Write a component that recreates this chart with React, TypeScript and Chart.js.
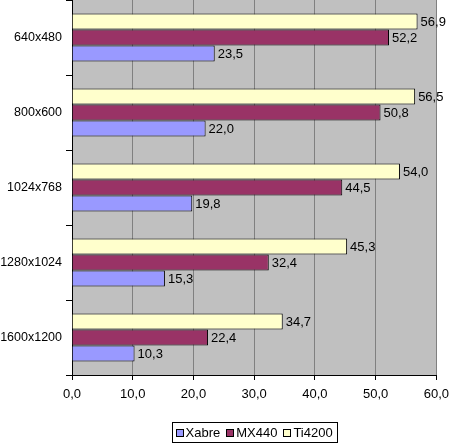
import React, { useEffect, useRef } from "react";
import { Chart, registerables } from "chart.js";

Chart.register(...registerables);

const categories = ["640x480", "800x600", "1024x768", "1280x1024", "1600x1200"];
const xabre = [23.5, 22.0, 19.8, 15.3, 10.3];
const mx440 = [52.2, 50.8, 44.5, 32.4, 22.4];
const ti4200 = [56.9, 56.5, 54.0, 45.3, 34.7];
const seriesNames = ["Xabre", "MX440", "Ti4200"];
const xTicks = [0, 10, 20, 30, 40, 50, 60];

const FONT = "'Liberation Sans', Arial, sans-serif";
const fmt = (v: number) => v.toFixed(1).replace(".", ",");

const bgPlugin = {
  id: "plotBg",
  beforeDraw(chart: any) {
    const { ctx, chartArea } = chart;
    ctx.save();
    ctx.fillStyle = "#C0C0C0";
    ctx.fillRect(chartArea.left, chartArea.top, chartArea.right - chartArea.left, chartArea.bottom - chartArea.top);
    ctx.restore();
  },
};

const labelPlugin = {
  id: "valLabels",
  afterDatasetsDraw(chart: any) {
    const { ctx } = chart;
    ctx.save();
    ctx.font = `13px ${FONT}`;
    ctx.fillStyle = "#000";
    ctx.textAlign = "left";
    ctx.textBaseline = "middle";
    chart.data.datasets.forEach((ds: any, i: number) => {
      const meta = chart.getDatasetMeta(i);
      meta.data.forEach((el: any, j: number) => {
        ctx.fillText(fmt(ds.data[j]), el.x + 3, el.y + 1);
      });
    });
    ctx.restore();
  },
};

const legendPlugin = {
  id: "customLegend",
  afterDraw(chart: any) {
    const { ctx, chartArea } = chart;
    ctx.save();
    ctx.font = `13px ${FONT}`;
    const items = chart.data.datasets.slice().reverse();
    const box = 8;
    const gapBoxText = 2;
    const gapItems = 6;
    const padL = 3;
    const padR = 5;
    let total = padL + padR;
    const widths = items.map((d: any) => ctx.measureText(d.label).width);
    items.forEach((d: any, i: number) => {
      total += box + gapBoxText + widths[i];
      if (i < items.length - 1) total += gapItems;
    });
    total = Math.round(total);
    const cx = (chartArea.left + chartArea.right) / 2;
    const left = Math.round(cx - total / 2) + 0.5;
    const top = 422.5;
    const h = 20;
    ctx.fillStyle = "#fff";
    ctx.fillRect(left, top, total, h);
    ctx.strokeStyle = "#000";
    ctx.lineWidth = 1;
    ctx.strokeRect(left, top, total, h);
    let x = left + padL;
    const cy = top + h / 2;
    items.forEach((d: any, i: number) => {
      const bx = Math.round(x);
      const by = Math.round(cy - box / 2);
      ctx.fillStyle = d.backgroundColor;
      ctx.fillRect(bx, by, box, box);
      ctx.strokeStyle = "#000";
      ctx.strokeRect(bx + 0.5, by + 0.5, box - 1, box - 1);
      x += box + gapBoxText;
      ctx.fillStyle = "#000";
      ctx.textBaseline = "middle";
      ctx.textAlign = "left";
      ctx.fillText(d.label, x, cy + 1);
      x += widths[i] + gapItems;
    });
    ctx.restore();
  },
};

export default function App() {
  const ref = useRef<HTMLCanvasElement>(null);
  useEffect(() => {
    document.body.style.margin = "0";
    const chart = new Chart(ref.current!, {
      type: "bar",
      data: {
        labels: categories,
        datasets: [
          { label: seriesNames[2], data: ti4200, backgroundColor: "#FFFFCC", borderColor: "#000", borderWidth: 1 },
          { label: seriesNames[1], data: mx440, backgroundColor: "#993366", borderColor: "#000", borderWidth: 1 },
          { label: seriesNames[0], data: xabre, backgroundColor: "#9999FF", borderColor: "#000", borderWidth: 1 },
        ],
      },
      options: {
        indexAxis: "y",
        responsive: false,
        animation: false,
        devicePixelRatio: 1,
        categoryPercentage: 0.64,
        barPercentage: 1,
        layout: { padding: { left: 0, right: 0, top: 0, bottom: 40 } },
        plugins: {
          legend: { display: false },
          tooltip: { enabled: false },
        },
        scales: {
          x: {
            type: "linear",
            min: 0,
            max: 60,
            afterBuildTicks: (scale: any) => {
              scale.ticks = xTicks.map((v) => ({ value: v }));
            },
            afterFit: (scale: any) => {
              scale.height = 28;
              scale.paddingRight = 12.6;
            },
            grid: { color: "#808080", tickColor: "#000", tickLength: 5, lineWidth: 1 },
            border: { color: "#000" },
            ticks: { color: "#000", font: { family: FONT, size: 13 }, padding: 7, callback: (v: any) => fmt(Number(v)) },
          },
          y: {
            type: "category",
            afterFit: (scale: any) => {
              scale.paddingTop = 0;
              scale.paddingBottom = 0;
              scale.width = 72;
            },
            grid: { drawOnChartArea: false, drawTicks: true, tickLength: 6, color: "#000", offset: true },
            border: { color: "#000" },
            ticks: { color: "#000", font: { family: FONT, size: 12.5 }, padding: 4 },
          },
        },
      },
      plugins: [bgPlugin, labelPlugin, legendPlugin],
    } as any);
    return () => chart.destroy();
  }, []);
  return (
    <div style={{ position: "absolute", left: 0, top: 0, width: 449, height: 443 }}>
      <canvas ref={ref} width={449} height={443} />
    </div>
  );
}
